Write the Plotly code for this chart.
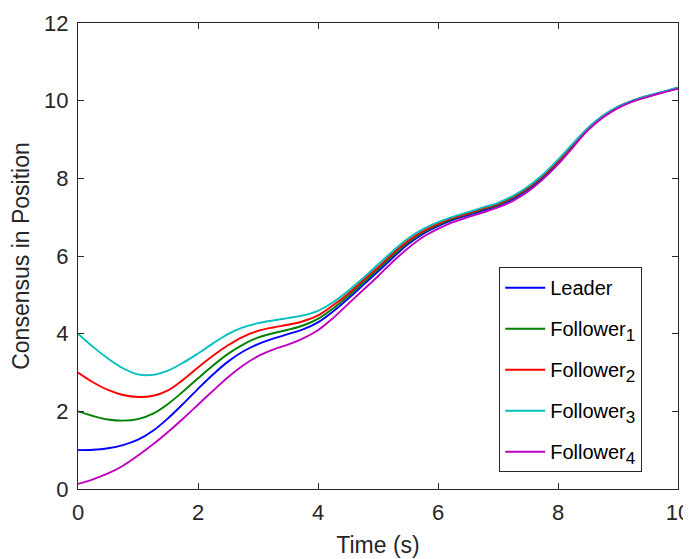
import plotly.graph_objects as go

time_s = [0, 0.25, 0.5, 0.75, 1.0, 1.25, 1.5, 1.75, 2.0, 2.25, 2.5, 2.75, 3.0, 3.25, 3.5, 3.75,
          4.0, 4.25, 4.5, 4.75, 5.0, 5.25, 5.5, 5.75, 6.0, 6.25, 6.5, 6.75, 7.0, 7.25, 7.5, 7.75,
          8.0, 8.25, 8.5, 8.75, 9.0, 9.25, 9.5, 9.75, 10.0]

leader = [1.00, 1.01, 1.05, 1.13, 1.27, 1.50, 1.82, 2.19, 2.58, 2.95, 3.28, 3.54, 3.73, 3.87, 3.99, 4.11,
          4.29, 4.57, 4.90, 5.25, 5.60, 5.96, 6.30, 6.57, 6.77, 6.93, 7.05, 7.17, 7.30, 7.47, 7.71, 8.02,
          8.40, 8.84, 9.27, 9.59, 9.83, 9.99, 10.11, 10.22, 10.32]
follower1 = [2.00, 1.88, 1.79, 1.76, 1.80, 1.94, 2.19, 2.51, 2.85, 3.18, 3.48, 3.72, 3.90, 4.01, 4.10, 4.21,
             4.38, 4.65, 4.97, 5.31, 5.66, 6.02, 6.35, 6.61, 6.80, 6.96, 7.08, 7.20, 7.32, 7.50, 7.74, 8.05,
             8.43, 8.86, 9.28, 9.60, 9.84, 10.00, 10.12, 10.22, 10.33]
follower2 = [3.00, 2.75, 2.55, 2.42, 2.37, 2.40, 2.54, 2.81, 3.13, 3.43, 3.70, 3.92, 4.07, 4.16, 4.23, 4.32,
             4.47, 4.73, 5.03, 5.37, 5.71, 6.07, 6.39, 6.64, 6.83, 6.98, 7.10, 7.22, 7.34, 7.52, 7.76, 8.07,
             8.45, 8.88, 9.29, 9.61, 9.84, 10.00, 10.12, 10.22, 10.33]
follower3 = [4.00, 3.66, 3.36, 3.11, 2.95, 2.94, 3.05, 3.25, 3.49, 3.75, 3.99, 4.16, 4.27, 4.34, 4.40, 4.47,
             4.59, 4.81, 5.10, 5.43, 5.78, 6.13, 6.45, 6.69, 6.87, 7.01, 7.13, 7.25, 7.37, 7.55, 7.79, 8.10,
             8.48, 8.90, 9.30, 9.62, 9.85, 10.01, 10.13, 10.23, 10.34]
follower4 = [0.13, 0.25, 0.40, 0.60, 0.86, 1.15, 1.47, 1.81, 2.17, 2.53, 2.88, 3.18, 3.42, 3.59, 3.72, 3.88,
             4.09, 4.40, 4.76, 5.12, 5.48, 5.86, 6.20, 6.49, 6.70, 6.87, 7.00, 7.12, 7.25, 7.42, 7.66, 7.98,
             8.36, 8.80, 9.24, 9.57, 9.81, 9.98, 10.10, 10.21, 10.31]

SUB = '<sub><span style="font-size:17px">{}</span></sub>'
names = ["Leader", "Follower" + SUB.format(1), "Follower" + SUB.format(2),
         "Follower" + SUB.format(3), "Follower" + SUB.format(4)]
series = [leader, follower1, follower2, follower3, follower4]
colors = ["#0000ff", "#008000", "#ff0000", "#00bfbf", "#bf00bf"]

x_ticks = [0, 2, 4, 6, 8, 10]
y_ticks = [0, 2, 4, 6, 8, 10, 12]

FONT = "Liberation Sans, Arial, sans-serif"
TXT = "#262626"

fig = go.Figure()
for i, (name, ys, c) in enumerate(zip(names, series, colors)):
    fig.add_trace(go.Scatter(x=time_s, y=ys, mode="lines", name=name, legendgroup=f"g{i}",
                             line=dict(color=c, width=1.9, shape="spline", smoothing=1.0)))

axis_common = dict(showgrid=False, zeroline=False, showline=True, linecolor=TXT,
                   linewidth=1, mirror="ticks", ticks="inside", ticklen=6, tickcolor=TXT,
                   automargin=False,
                   tickfont=dict(family=FONT, size=22, color=TXT))

# the page body has an 8px margin, so the figure is sized/margined to compensate
fig.update_layout(
    width=683, height=551,
    margin=dict(l=70, r=13, t=15, b=70),
    paper_bgcolor="white", plot_bgcolor="white",
    font=dict(family=FONT, color=TXT),
    xaxis=dict(range=[0, 10], tickvals=x_ticks, ticklabelstandoff=4,
               title=dict(text="Time (s)", font=dict(size=23, color=TXT), standoff=12),
               **axis_common),
    yaxis=dict(range=[0, 12], tickvals=y_ticks, ticklabelstandoff=4,
               title=dict(text="Consensus in Position", font=dict(size=23, color=TXT), standoff=8),
               **axis_common),
    legend=dict(x=0.702, y=0.476, xanchor="left", yanchor="top",
                bgcolor="white", bordercolor=TXT, borderwidth=1, itemwidth=40,
                font=dict(family=FONT, size=20, color="#000000"), tracegroupgap=12),
    showlegend=True,
)

fig.write_html("out.html")
